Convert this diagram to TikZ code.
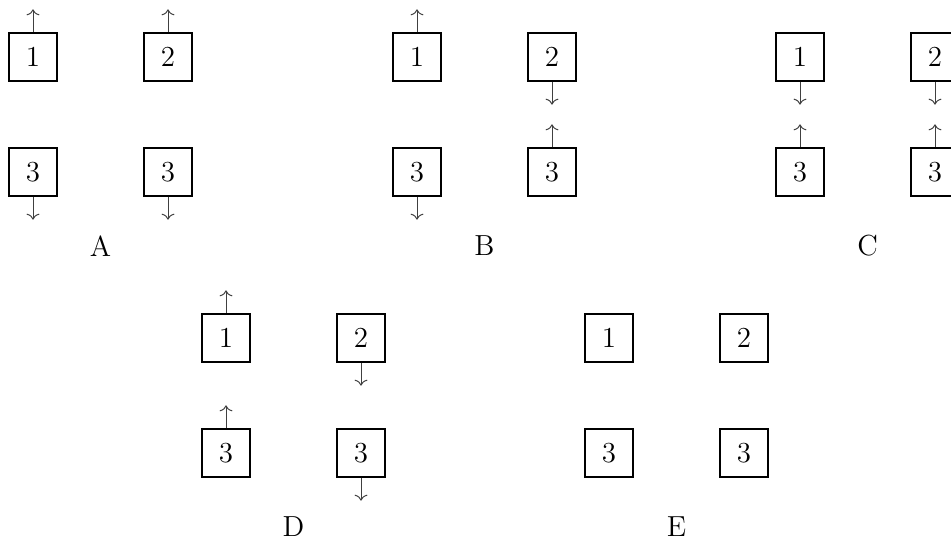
\documentclass[tikz,border=0pt]{standalone}
\usetikzlibrary{arrows.meta}
\begin{document}
\begin{tikzpicture}[x=0.5pt,y=-0.5pt,
  cell/.style={draw, line width=0.7pt, minimum size=24pt, inner sep=0pt,
    font=\fontsize{14.5}{17}\selectfont},
  flow/.style={-{To[length=3pt,width=6.5pt]}, line width=0.5pt, draw=black!75},
  grouplabel/.style={font=\fontsize{14.5}{17}\selectfont}]
\useasboundingbox (0,0) rectangle (951,539);
% five panels of four cells each
\foreach \g/\cx/\cy in {A/33/57, B/417/57, C/800/57, D/226/338, E/609/338}{
  \node[cell] (\g1) at (\cx,\cy) {1};
  \node[cell] (\g2) at ({\cx+135},\cy) {2};
  \node[cell] (\g3) at (\cx,{\cy+115}) {3};
  \node[cell] (\g4) at ({\cx+135},{\cy+115}) {3};
  \node[grouplabel] (\g lab) at ({\cx+67.5},{\cy+189}) {\g};
}
% arrows leaving a cell upwards
\foreach \n in {A1,A2,B1,B4,C3,C4,D1,D3}{
  \coordinate (\n-tip) at ([yshift=11.5pt]\n.north);
  \draw[flow] (\n.north) -- (\n-tip);
}
% arrows leaving a cell downwards
\foreach \n in {A3,A4,B2,B3,C1,C2,D2,D4}{
  \coordinate (\n-tip) at ([yshift=-11.5pt]\n.south);
  \draw[flow] (\n.south) -- (\n-tip);
}
\end{tikzpicture}
\end{document}
